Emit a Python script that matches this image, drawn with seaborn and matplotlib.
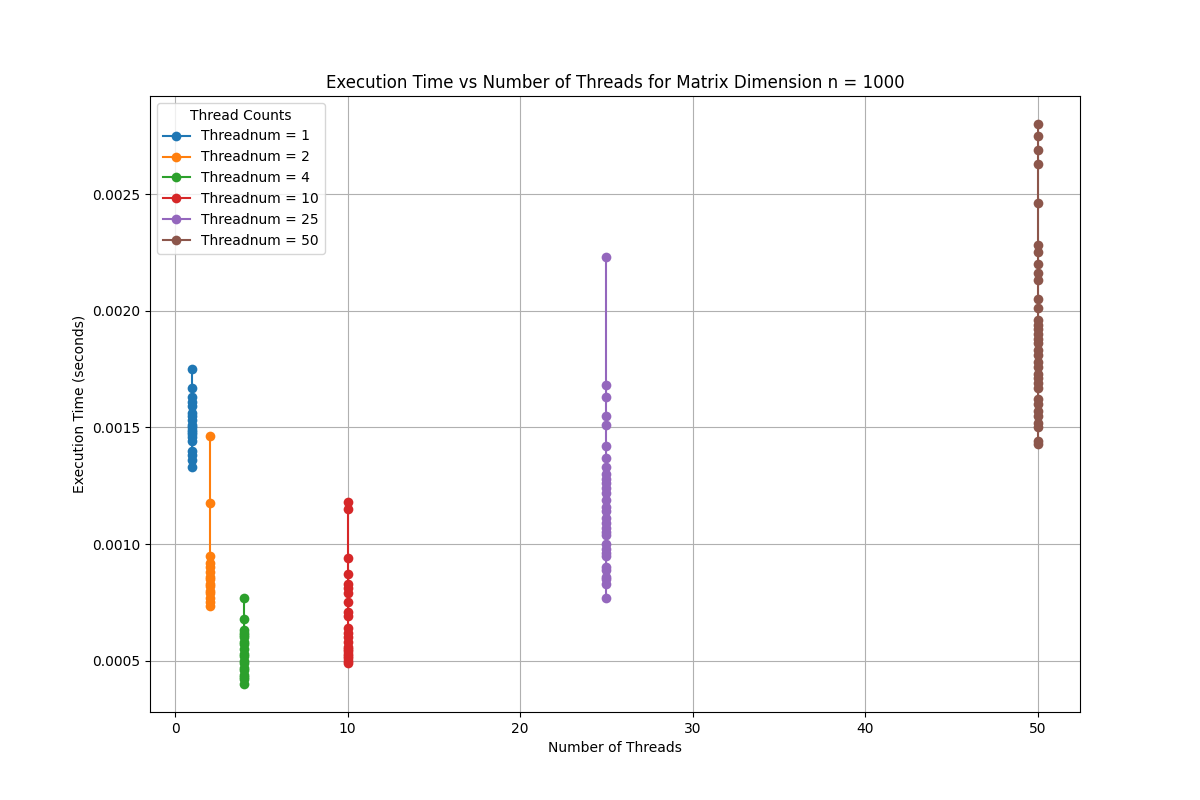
import pandas as pd
import matplotlib
matplotlib.use('Agg')
import matplotlib.pyplot as plt
import seaborn as sns

# execution times in ms, converted to seconds below
t1 = [1.75, 1.67, 1.63, 1.61, 1.59, 1.56, 1.55, 1.53, 1.51, 1.50, 1.49, 1.48,
      1.47, 1.46, 1.44, 1.40, 1.38, 1.36, 1.33]
t2 = [1.465, 1.175, 0.95, 0.92, 0.90, 0.88, 0.86, 0.85, 0.83, 0.82, 0.80, 0.79,
      0.77, 0.75, 0.735]
t4 = [0.77, 0.68, 0.63, 0.62, 0.61, 0.60, 0.58, 0.57, 0.55, 0.53, 0.52, 0.50,
      0.49, 0.47, 0.46, 0.44, 0.43, 0.42, 0.40]
t10 = [1.18, 1.15, 0.94, 0.87, 0.83, 0.81, 0.79, 0.75, 0.71, 0.69, 0.64, 0.62,
       0.60, 0.58, 0.56, 0.55, 0.54, 0.53, 0.52, 0.51, 0.50, 0.49]
t25 = [2.23, 1.68, 1.63, 1.55, 1.51, 1.42, 1.37, 1.33, 1.30, 1.28, 1.26, 1.24,
       1.22, 1.19, 1.16, 1.14, 1.11, 1.09, 1.07, 1.05, 1.04, 1.00, 0.98, 0.96,
       0.95, 0.90, 0.89, 0.86, 0.85, 0.83, 0.77]
t50 = [2.80, 2.75, 2.69, 2.63, 2.46, 2.28, 2.25, 2.20, 2.16, 2.13, 2.05, 2.01,
       1.96, 1.94, 1.92, 1.90, 1.88, 1.86, 1.83, 1.81, 1.78, 1.76, 1.73, 1.71,
       1.69, 1.67, 1.62, 1.60, 1.57, 1.55, 1.52, 1.50, 1.44, 1.43]

threads = [1, 2, 4, 10, 25, 50]
times = [t1, t2, t4, t10, t25, t50]
colors = ['#1f77b4', '#ff7f0e', '#2ca02c', '#d62728', '#9467bd', '#8c564b']

fig, ax = plt.subplots(figsize=(12, 8))
for n, ts, c in zip(threads, times, colors):
    df = pd.DataFrame({'threads': [n] * len(ts), 'time': [v / 1000 for v in ts]})
    sns.lineplot(data=df, x='threads', y='time', estimator=None, sort=False,
                 marker='o', markersize=7, markeredgewidth=0, color=c,
                 label=f'Threadnum = {n}', ax=ax)

ax.set_title('Execution Time vs Number of Threads for Matrix Dimension n = 1000')
ax.set_xlabel('Number of Threads')
ax.set_ylabel('Execution Time (seconds)')
ax.grid(True)
ax.legend(title='Thread Counts', loc='upper left')
plt.savefig('out.png', dpi=100)
